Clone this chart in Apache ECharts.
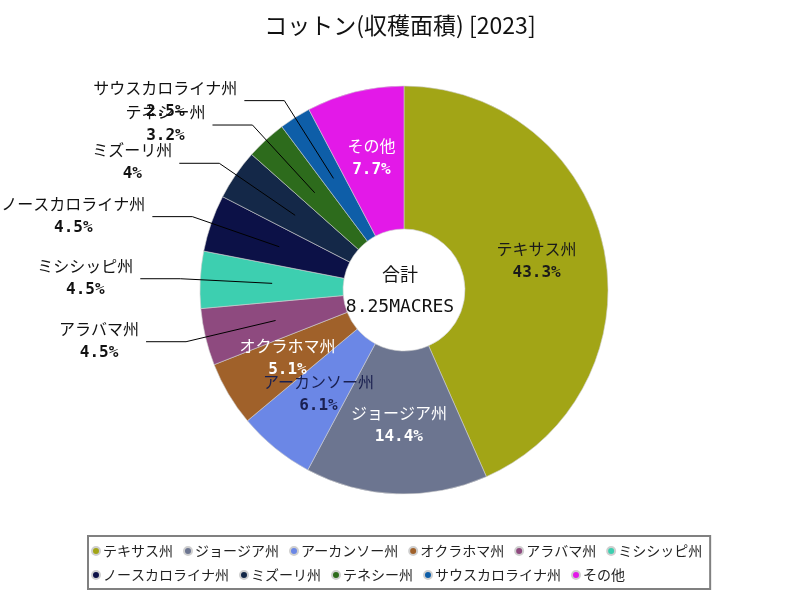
<!DOCTYPE html>
<html>
<head>
<meta charset="utf-8">
<script src="https://cdn.jsdelivr.net/npm/echarts@6/dist/echarts.min.js"></script>
<style>
html,body{margin:0;padding:0;background:#fff;}
#chart{width:800px;height:600px;}
</style>
</head>
<body>
<div id="chart"></div>
<script>
const categories = ['テキサス州','ジョージア州','アーカンソー州','オクラホマ州','アラバマ州','ミシシッピ州','ノースカロライナ州','ミズーリ州','テネシー州','サウスカロライナ州','その他'];
const shares = [43.3, 14.4, 6.1, 5.1, 4.5, 4.5, 4.5, 4, 3.2, 2.5, 7.7];
const colors = ['#a2a516','#6c7590','#6b87e6','#a0612a','#8e4a7f','#3dcfb0','#0c1147','#142848','#2d6b1c','#0e5ea8','#e319e8'];
const insideLabelColors = ['#1a1a1a','#ffffff','#1a2050','#ffffff',null,null,null,null,null,null,'#ffffff'];
const titleText = 'コットン(収穫面積) [2023]';
const totalLabel = '合計';
const totalValue = '8.25MACRES';

const labelFont = '"DejaVu Sans Mono","Noto Sans CJK JP",monospace';
const cjkFont = '"Noto Sans CJK JP","Noto Sans",sans-serif';

const isOutside = v => v < 5;

const mainData = categories.map((name, i) => ({
  name,
  value: shares[i],
  itemStyle: { color: colors[i] },
  label: isOutside(shares[i]) ? { show: false } : { show: true, color: insideLabelColors[i] }
}));

const labelData = categories.map((name, i) => ({
  name,
  value: shares[i],
  itemStyle: { color: 'rgba(0,0,0,0)', borderWidth: 0 },
  label: { show: isOutside(shares[i]) },
  labelLine: { show: isOutside(shares[i]) }
}));

const chart = echarts.init(document.getElementById('chart'));
chart.setOption({
  backgroundColor: '#ffffff',
  animation: false,
  title: {
    text: titleText,
    left: 'center',
    top: 9,
    textStyle: { fontFamily: cjkFont, fontSize: 23, fontWeight: 'normal', color: '#111' }
  },
  legend: {
    data: categories,
    left: 88,
    top: 536,
    width: 618,
    padding: [8, 8, 7, 3],
    borderColor: '#808080',
    borderWidth: 2,
    itemWidth: 8,
    itemHeight: 8,
    itemGap: 10,
    icon: 'circle',
    textStyle: { fontFamily: cjkFont, fontSize: 14, color: '#222', padding: [0, 0, 0, -2] }
  },
  graphic: [
    { type: 'text', left: 'center', top: 267, style: { text: totalLabel, font: '18px ' + labelFont, fill: '#111' }, x: 4 },
    { type: 'text', left: 'center', top: 298, style: { text: totalValue, font: '18px ' + labelFont, fill: '#111' }, x: 4 }
  ],
  series: [
    {
      type: 'pie',
      z: 2,
      center: [404, 290],
      radius: [61, 204],
      startAngle: 90,
      clockwise: true,
      avoidLabelOverlap: false,
      labelLayout: { hideOverlap: false },
      itemStyle: { borderColor: '#cfcfcf', borderWidth: 0.6 },
      label: {
        position: 'inside',
        formatter: p => '{n|' + p.name + '}\n{p|' + p.value + '%}',
        rich: {
          n: { fontFamily: labelFont, fontSize: 16, align: 'center', lineHeight: 22 },
          p: { fontFamily: labelFont, fontSize: 16, fontWeight: 'bold', align: 'center', lineHeight: 22 }
        }
      },
      labelLine: { show: false },
      emphasis: { disabled: true },
      data: mainData
    },
    {
      type: 'pie',
      z: 5,
      center: [404, 290],
      radius: [0, 132],
      startAngle: 90,
      clockwise: true,
      silent: true,
      avoidLabelOverlap: false,
      labelLayout: { hideOverlap: false },
      label: {
        position: 'outside',
        color: '#111',
        distanceToLabelLine: 7,
        formatter: p => '{n|' + p.name + '}\n{p|' + p.value + '%}',
        rich: {
          n: { fontFamily: labelFont, fontSize: 16, align: 'center', lineHeight: 22, color: '#111' },
          p: { fontFamily: labelFont, fontSize: 16, fontWeight: 'bold', align: 'center', lineHeight: 22, color: '#111' }
        }
      },
      labelLine: { show: true, length: 92, length2: 40, lineStyle: { color: '#000', width: 1 } },
      emphasis: { disabled: true },
      data: labelData
    }
  ]
});
</script>
</body>
</html>
